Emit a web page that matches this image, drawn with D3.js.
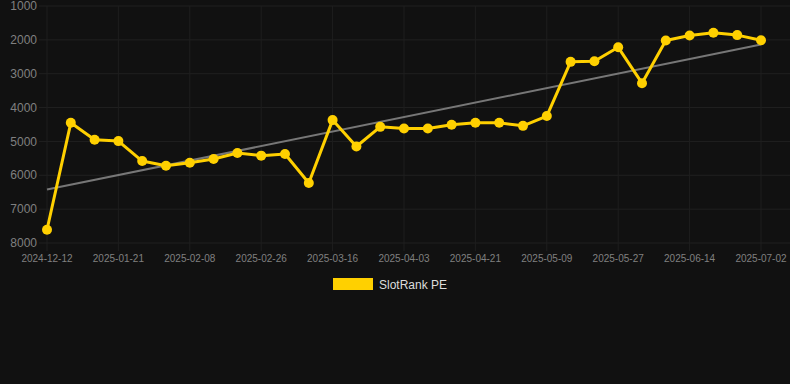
<!DOCTYPE html>
<html><head><meta charset="utf-8">
<script src="https://cdn.jsdelivr.net/npm/d3@7/dist/d3.min.js"></script>
<style>
html,body{margin:0;padding:0;background:#111111;}
svg{display:block;font-family:"Liberation Sans",Arial,sans-serif;}
</style></head>
<body>
<svg id="chart" width="790" height="384"></svg>
<script>
const dates = ["2024-12-12","2025-01-09","2025-01-15","2025-01-21","2025-01-27","2025-02-02","2025-02-08","2025-02-14","2025-02-20","2025-02-26","2025-03-04","2025-03-10","2025-03-16","2025-03-22","2025-03-28","2025-04-03","2025-04-09","2025-04-15","2025-04-21","2025-04-27","2025-05-03","2025-05-09","2025-05-15","2025-05-21","2025-05-27","2025-06-02","2025-06-08","2025-06-14","2025-06-20","2025-06-26","2025-07-02"];
const values = [7610,4450,4950,4990,5580,5720,5630,5520,5340,5420,5370,6230,4370,5150,4570,4620,4620,4510,4450,4450,4540,4250,2650,2630,2220,3280,2020,1870,1790,1860,2010];
const yTicks = [1000,2000,3000,4000,5000,6000,7000,8000];
const seriesName = "SlotRank PE";

(function () {
const svg = d3.select("#chart");
const pL = 47, pR = 761, pT = 6, pB = 243;
const x = d3.scalePoint().domain(dates).range([pL, pR]);
const y = d3.scaleLinear().domain([1000, 8000]).range([pT, pB]);

// grid
const grid = svg.append("g");
grid.selectAll("line.h").data(yTicks).enter().append("line")
  .attr("x1", 39).attr("x2", 790)
  .attr("y1", d => y(d)).attr("y2", d => y(d))
  .attr("stroke", "#202020").attr("stroke-width", 1);
const xTickDates = dates.filter((d, i) => i % 3 === 0);
grid.selectAll("line.v").data(xTickDates).enter().append("line")
  .attr("x1", d => x(d)).attr("x2", d => x(d))
  .attr("y1", pT).attr("y2", pB + 8)
  .attr("stroke", "#1e1e1e").attr("stroke-width", 1);

// y labels
svg.append("g").selectAll("text").data(yTicks).enter().append("text")
  .attr("x", 37).attr("y", d => y(d)).attr("dy", "0.35em")
  .attr("text-anchor", "end").attr("fill", "#808080").attr("font-size", 12)
  .text(d => d);

// x labels
svg.append("g").selectAll("text").data(xTickDates).enter().append("text")
  .attr("x", d => x(d)).attr("y", 262)
  .attr("text-anchor", "middle").attr("fill", "#808080").attr("font-size", 10)
  .text(d => d);

// trend line (least squares)
const n = values.length;
const idx = d3.range(n);
const mx = d3.mean(idx), my = d3.mean(values);
const slope = d3.sum(idx, i => (i - mx) * (values[i] - my)) / d3.sum(idx, i => (i - mx) ** 2);
const icpt = my - slope * mx;
svg.append("line")
  .attr("x1", x(dates[0])).attr("y1", y(icpt))
  .attr("x2", x(dates[n - 1])).attr("y2", y(icpt + slope * (n - 1)))
  .attr("stroke", "#777777").attr("stroke-width", 2);

// series line
const line = d3.line().x((d, i) => x(dates[i])).y(d => y(d));
svg.append("path").datum(values).attr("d", line)
  .attr("fill", "none").attr("stroke", "#FFD000").attr("stroke-width", 3)
  .attr("stroke-linejoin", "round");
svg.append("g").selectAll("circle").data(values).enter().append("circle")
  .attr("cx", (d, i) => x(dates[i])).attr("cy", d => y(d)).attr("r", 5)
  .attr("fill", "#FFD000");

// legend
svg.append("rect").attr("x", 333).attr("y", 278).attr("width", 40).attr("height", 12)
  .attr("fill", "#FFD000");
svg.append("text").attr("x", 379).attr("y", 289).attr("fill", "#dddddd")
  .attr("font-size", 12).text(seriesName);
})();
</script>
</body></html>
